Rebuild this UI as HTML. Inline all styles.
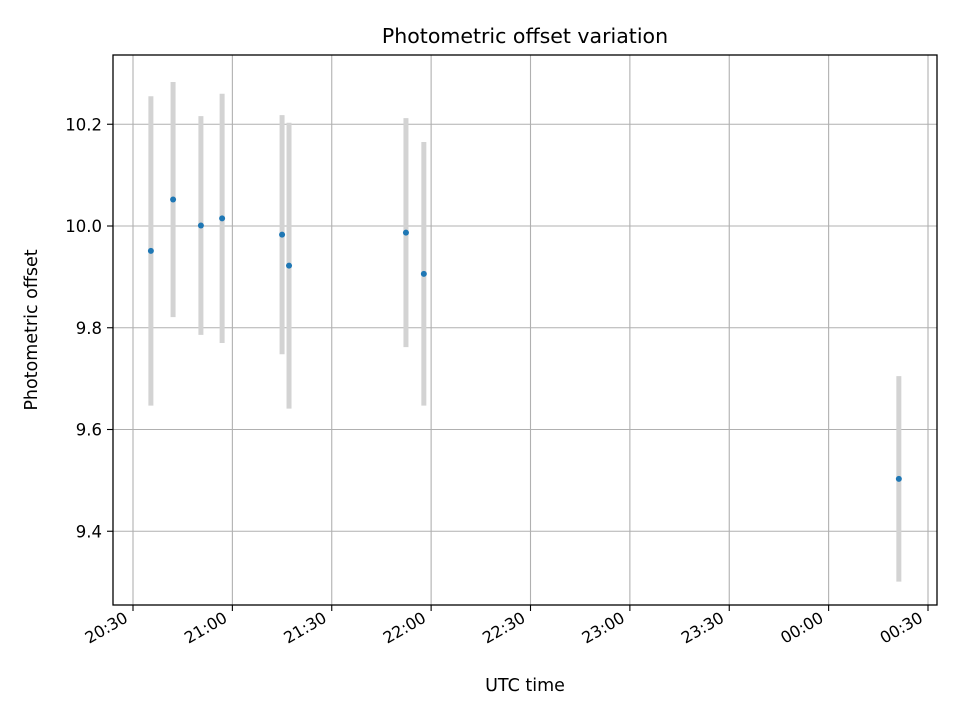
<!DOCTYPE html>
<html><head><meta charset="utf-8"><style>
body{margin:0;background:#fff;}
svg text{font-family:"DejaVu Sans","Liberation Sans",sans-serif;fill:#000;}
</style></head><body>
<svg id="chart" width="960" height="720" xmlns="http://www.w3.org/2000/svg">
<rect width="960" height="720" fill="#fff"/>
<g id="grid"></g>
<g id="bars"></g>
<g id="pts"></g>
<rect x="113" y="55" width="824" height="550" fill="none" stroke="#000" stroke-width="1.3"/>
<g id="ticks"></g>
<text x="525" y="43" text-anchor="middle" font-size="20.5">Photometric offset variation</text>
<text x="525" y="691" text-anchor="middle" font-size="17.5">UTC time</text>
<text transform="translate(37,330) rotate(-90)" text-anchor="middle" font-size="17.5">Photometric offset</text>
</svg>
<script>
const times=[5.4,12.1,20.5,26.9,45,47.1,82.4,87.8,231.2];
const values=[9.951,10.052,10.001,10.015,9.983,9.922,9.987,9.906,9.503];
const errors=[0.304,0.231,0.215,0.245,0.235,0.281,0.225,0.259,0.202];
const xTickMinutes=[0,30,60,90,120,150,180,210,240,270];
const xTickLabels=["20:30","21:00","21:30","22:00","22:30","23:00","23:30","00:00","00:30"];
const yTicks=[9.4,9.6,9.8,10.0,10.2];
const yTickLabels=["9.4","9.6","9.8","10.0","10.2"];
const X=m=>133+m*3.3125;
const Y=v=>226-(v-10)*508.75;
const NS="http://www.w3.org/2000/svg";
function mk(t,a,p){const e=document.createElementNS(NS,t);for(const k in a)e.setAttribute(k,a[k]);document.getElementById(p).appendChild(e);return e;}
xTickLabels.forEach((l,i)=>{const x=X(xTickMinutes[i]);
 const g=mk('line',{x1:x,x2:x,y1:55,y2:605,stroke:'#b0b0b0','stroke-width':1.1},'grid');
 
 
 const t=mk('line',{x1:x,x2:x,y1:605,y2:611,stroke:'#000','stroke-width':1.1},'ticks');
 
 
 const ax=x-4, ay=621;
 const tx=mk('text',{x:ax,y:ay,'text-anchor':'end','font-size':16,transform:`rotate(-30 ${ax} ${ay})`},'ticks');
 tx.textContent=l;
 
 
});
yTicks.forEach((v,i)=>{const y=Y(v);
 const g=mk('line',{x1:113,x2:937,y1:y,y2:y,stroke:'#b0b0b0','stroke-width':1.1},'grid');
 
 
 const t=mk('line',{x1:107,x2:113,y1:y,y2:y,stroke:'#000','stroke-width':1.1},'ticks');
 
 
 const tx=mk('text',{x:102,y:y+6,'text-anchor':'end','font-size':16.5},'ticks');
 tx.textContent=yTickLabels[i];
 
 
});
times.forEach((m,i)=>{const x=X(m);
 const b=mk('line',{x1:x,x2:x,y1:Y(values[i]+errors[i]),y2:Y(values[i]-errors[i]),stroke:'#d3d3d3','stroke-width':5},'bars');
 
 
 const c=mk('circle',{cx:x,cy:Y(values[i]),r:3,fill:'#1f77b4'},'pts');
 
 
});
</script>
</body></html>
